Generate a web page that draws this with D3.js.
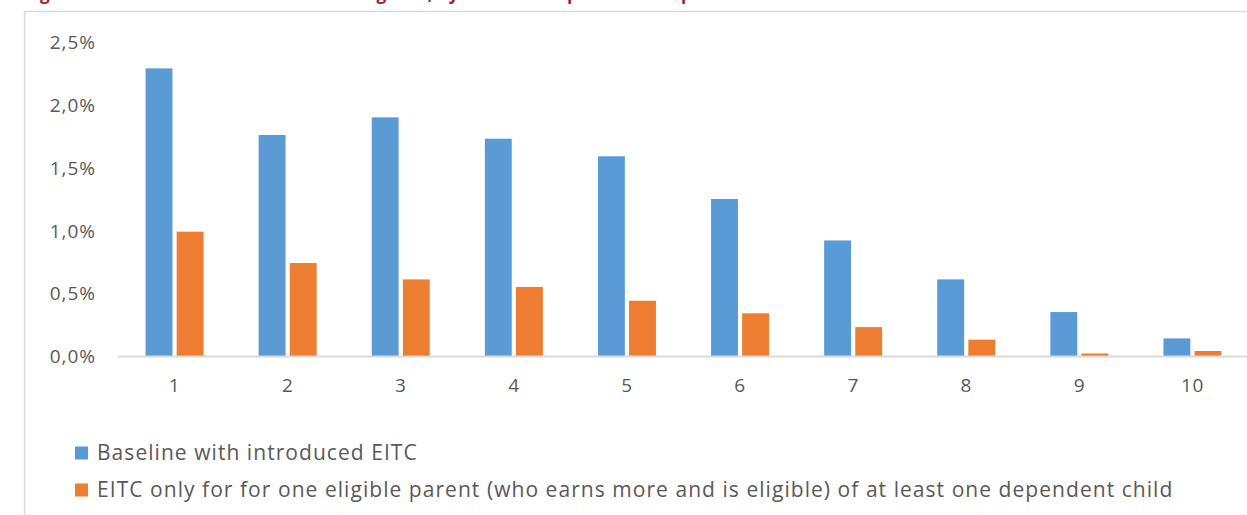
<!DOCTYPE html>
<html>
<head>
<meta charset="utf-8">
<script src="https://cdn.jsdelivr.net/npm/d3@7"></script>
<style>
  html, body { margin: 0; padding: 0; background: #fff; }
  svg { display: block; }
  text { font-family: "Open Sans", Lato, sans-serif; }
</style>
</head>
<body>
<script>
// Income deciles on the x axis
const deciles = [1, 2, 3, 4, 5, 6, 7, 8, 9, 10];
// Share (%) per decile for each simulated scenario
const baselineValues = [2.29, 1.76, 1.90, 1.73, 1.59, 1.25, 0.92, 0.61, 0.35, 0.14];
const oneParentValues = [0.99, 0.74, 0.61, 0.55, 0.44, 0.34, 0.23, 0.13, 0.02, 0.04];
const seriesNames = [
  "Baseline with introduced EITC",
  "EITC only for for one eligible parent (who earns more and is eligible) of at least one dependent child"
];
const yTicks = [0, 0.5, 1.0, 1.5, 2.0, 2.5];
const titleText = "Figure 4: Simulated effect on the working rate, by deciles of equivalised disposable income";

const W = 1247, H = 515;
const colors = ["#5b9bd5", "#ed7d31"];
const labelFont = "'Open Sans', Lato, sans-serif";

const svg = d3.select("body").append("svg").attr("width", W).attr("height", H);

// Title, running above the top edge
svg.append("text")
  .attr("x", 25).attr("y", -0.5)
  .attr("fill", "#a6192e")
  .attr("font-weight", "bold")
  .attr("font-size", 17)
  .attr("letter-spacing", 0.3)
  .text(titleText);

// Chart frame
svg.append("path")
  .attr("d", `M${W + 2},11.5 H24.5 V${H + 2}`)
  .attr("fill", "none").attr("stroke", "#d9d9d9").attr("stroke-width", 1.5);

const x0 = d3.scaleBand().domain(deciles).range([118, 1249]).paddingInner(0).paddingOuter(0);
const y = d3.scaleLinear().domain([0, 2.5]).range([356, 42]);

// Bar positions inside each decile band
const groupW = 58;
const x1 = d3.scaleBand().domain([0, 1]).range([0, groupW]).paddingInner(0.135);

const rows = deciles.map((d, i) => ({ d, vals: [baselineValues[i], oneParentValues[i]] }));

const g = svg.append("g");
const groups = g.selectAll("g.dec").data(rows).join("g")
  .attr("transform", r => `translate(${x0(r.d) + (x0.bandwidth() - groupW) / 2},0)`);

groups.selectAll("rect").data(r => r.vals.map((v, k) => ({ v, k }))).join("rect")
  .attr("x", o => x1(o.k))
  .attr("width", x1.bandwidth())
  .attr("y", o => y(o.v))
  .attr("height", o => y(0) - y(o.v))
  .attr("fill", o => colors[o.k]);

// Baseline axis line
svg.append("line")
  .attr("x1", 118).attr("x2", W + 2)
  .attr("y1", y(0) + 0.5).attr("y2", y(0) + 0.5)
  .attr("stroke", "#d9d9d9").attr("stroke-width", 2);

// Y axis labels
const yAxis = d3.axisLeft(y).tickValues(yTicks)
  .tickFormat(v => d3.format(".1f")(v).replace(".", ",") + "%")
  .tickSize(0).tickPadding(0);
svg.append("g").attr("transform", "translate(96,0)").call(yAxis)
  .call(a => a.select(".domain").remove())
  .call(a => a.selectAll("text").attr("fill", "#595959").attr("font-size", 19)
    .attr("letter-spacing", 1)
    .attr("font-family", labelFont).attr("dy", "0.35em"));

// X axis labels
const xAxis = d3.axisBottom(x0).tickSize(0).tickPadding(0);
svg.append("g").attr("transform", `translate(0,${y(0) + 22})`).call(xAxis)
  .call(a => a.select(".domain").remove())
  .call(a => a.selectAll("text").attr("fill", "#595959").attr("font-size", 19)
    .attr("letter-spacing", 0.5)
    .attr("font-family", labelFont));

// Legend
const legend = svg.append("g");
const legendRows = [453, 490];
seriesNames.forEach((name, k) => {
  legend.append("rect")
    .attr("x", 75).attr("y", legendRows[k] - 6.5)
    .attr("width", 13).attr("height", 13)
    .attr("fill", colors[k]);
  legend.append("text")
    .attr("x", 97).attr("y", legendRows[k])
    .attr("dy", "0.35em")
    .attr("fill", "#595959").attr("font-size", 21)
    .attr("letter-spacing", 1.05)
    .text(name);
});
</script>
</body>
</html>
